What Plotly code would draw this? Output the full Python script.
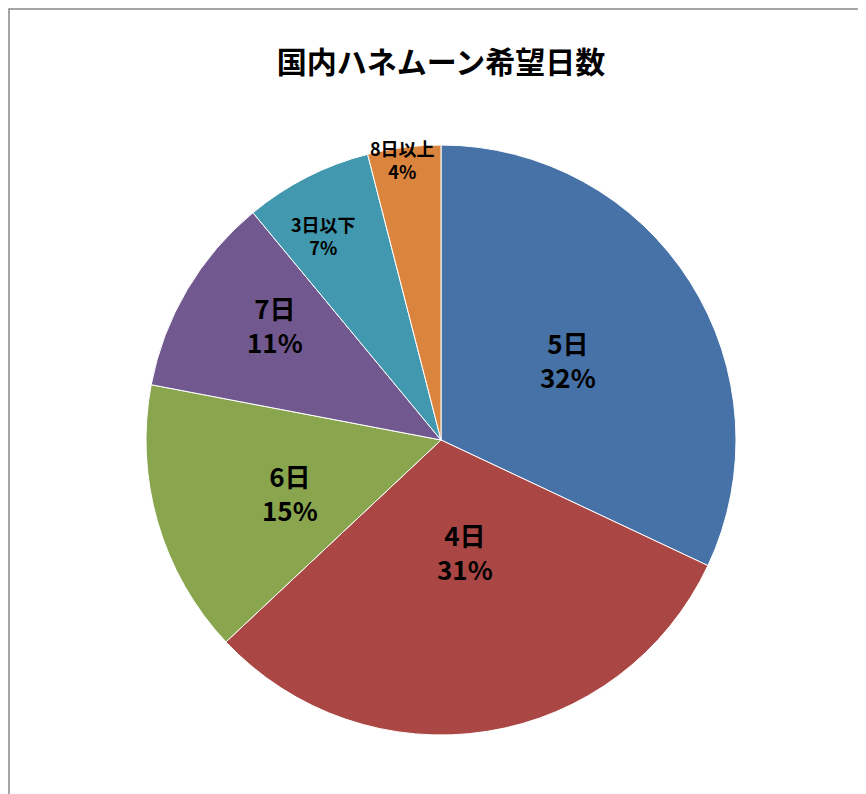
import math
import plotly.graph_objects as go

labels = ["5日", "4日", "6日", "7日", "3日以下", "8日以上"]
values = [32, 31, 15, 11, 7, 4]
colors = ["#4672A8", "#AA4744", "#89A54E", "#71588F", "#4198AF", "#DB843D"]
label_r = [0.51, 0.51, 0.64, 0.77, 0.88, 1.05]
sizes = [26, 26, 26, 26, 18, 18]

W, H, M = 866, 794, 2
cx, cy, R = 433, 432, 295
pw, ph = W - 2 * M, H - 2 * M
fx = lambda px: (px - M) / pw
fy = lambda py: 1 - (py - M) / ph

fig = go.Figure(go.Pie(
    labels=labels, values=values, sort=False, direction="clockwise", rotation=0,
    marker=dict(colors=colors, line=dict(color="white", width=1)),
    textinfo="none",
    domain=dict(x=[fx(cx - R), fx(cx + R)], y=[fy(cy + R), fy(cy - R)]),
    showlegend=False, hoverinfo="skip",
))

total = sum(values)
cum = 0
annotations = []
for lab, v, rf, s in zip(labels, values, label_r, sizes):
    ang = (cum + v / 2) / total * 2 * math.pi
    cum += v
    px = cx + rf * R * math.sin(ang)
    py = cy - rf * R * math.cos(ang)
    pct = round(v / total * 100)
    annotations.append(dict(
        x=fx(px), y=fy(py), xref="paper", yref="paper", showarrow=False,
        text=f"<b>{lab}<br>{pct}%</b>", align="center",
        font=dict(family="Noto Sans CJK JP", size=s, color="black"),
    ))

fig.update_layout(
    width=W, height=H, margin=dict(l=M, r=M, t=M, b=M),
    paper_bgcolor="white",
    title=dict(text="<b>国内ハネムーン希望日数</b>", x=0.5, y=0.945, xanchor="center",
               font=dict(family="Noto Sans CJK JP", size=30, color="black")),
    annotations=annotations,
    shapes=[dict(type="rect", xref="paper", yref="paper",
                 x0=-1 / pw, y0=-1 / ph, x1=1 + 1 / pw, y1=1 + 1 / ph,
                 line=dict(color="#888888", width=1.5))],
)
fig.write_html("out.html")
